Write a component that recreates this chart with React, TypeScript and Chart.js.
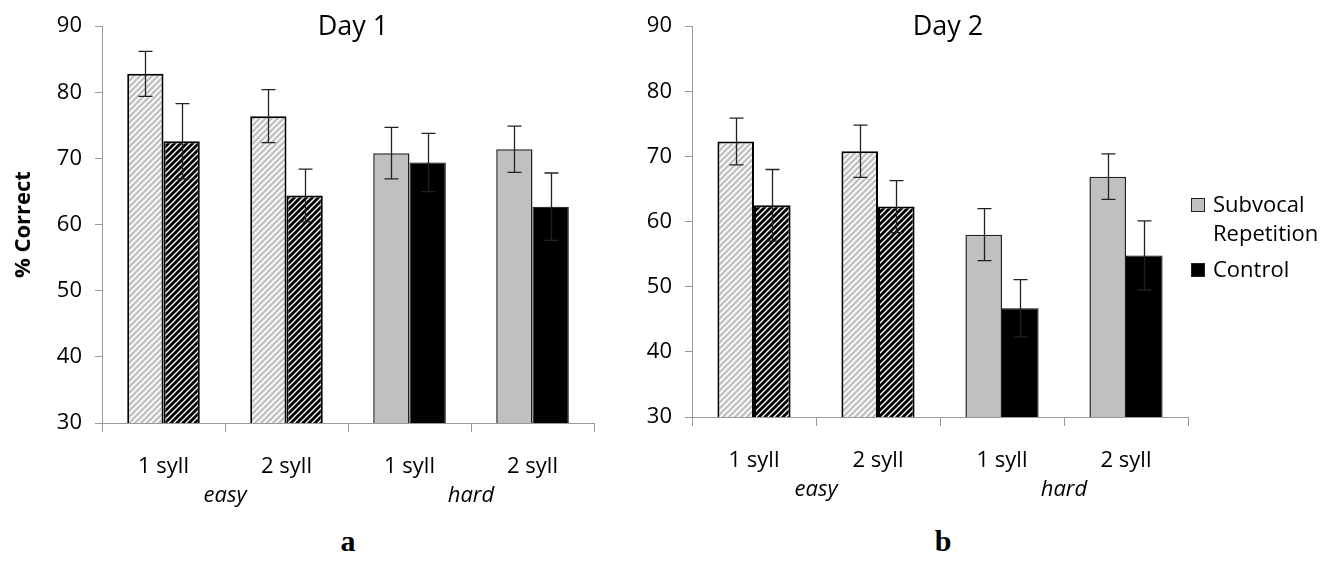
import React, { useEffect, useRef } from 'react';
import { Chart, registerables } from 'chart.js';

Chart.register(...registerables);

// ---------- data ----------
const categories = ['1 syll', '2 syll', '1 syll', '2 syll'];
const difficultyGroups = ['easy', 'hard'];
const seriesLabels = ['Subvocal Repetition', 'Control'];
const legendLines = [['Subvocal', 'Repetition'], ['Control']];

const yMin = 30;
const yMax = 90;
const yStep = 10;

const day1Subvocal = [82.8, 76.4, 70.8, 71.4];
const day1SubvocalErr = [3.4, 4.0, 3.9, 3.5];
const day1Control = [72.6, 64.4, 69.4, 62.7];
const day1ControlErr = [5.7, 4.0, 4.4, 5.1];

const day2Subvocal = [72.3, 70.8, 58.0, 66.9];
const day2SubvocalErr = [3.6, 4.0, 4.0, 3.5];
const day2Control = [62.5, 62.3, 46.7, 54.8];
const day2ControlErr = [5.5, 4.0, 4.4, 5.3];

const panelTitles = ['Day 1', 'Day 2'];
const panelLetters = ['a', 'b'];
const yAxisTitle = '% Correct';

// ---------- styles ----------
const FONT = "'Open Sans', sans-serif";
const AXIS = '#9a9a9a';
const TXT = '#000';
const GRAY = '#c0c0c0';

function makeHatch(fg: string, lw: number, size = 6) {
  const c = document.createElement('canvas');
  c.width = size;
  c.height = size;
  const g = c.getContext('2d')!;
  g.fillStyle = '#fff';
  g.fillRect(0, 0, size, size);
  g.strokeStyle = fg;
  g.lineWidth = lw;
  g.beginPath();
  for (const o of [-size, 0, size]) {
    g.moveTo(o - 1, size + 1);
    g.lineTo(o + size + 1, -1);
  }
  g.stroke();
  return g.createPattern(c, 'repeat')!;
}

const errorBarsPlugin = {
  id: 'errorBars',
  afterDatasetsDraw(chart: any, _a: any, opts: any) {
    const ys = chart.scales.y;
    const ctx = chart.ctx;
    ctx.save();
    ctx.strokeStyle = opts.color;
    ctx.lineWidth = opts.width;
    chart.data.datasets.forEach((ds: any, di: number) => {
      const errs = opts.errors && opts.errors[di];
      if (!errs) return;
      chart.getDatasetMeta(di).data.forEach((bar: any, i: number) => {
        const v = ds.data[i];
        const e = errs[i];
        const x = Math.round(bar.x) + 0.5;
        const yt = ys.getPixelForValue(v + e);
        const yb = ys.getPixelForValue(v - e);
        ctx.beginPath();
        ctx.moveTo(x, yt);
        ctx.lineTo(x, yb);
        ctx.moveTo(x - opts.cap, yt);
        ctx.lineTo(x + opts.cap, yt);
        ctx.moveTo(x - opts.cap, yb);
        ctx.lineTo(x + opts.cap, yb);
        ctx.stroke();
      });
    });
    ctx.restore();
  },
};

const panelTitlePlugin = {
  id: 'panelTitle',
  afterDraw(chart: any, _a: any, opts: any) {
    if (!opts.text) return;
    const { ctx, chartArea } = chart;
    ctx.save();
    ctx.font = `${opts.size}px ${FONT}`;
    ctx.fillStyle = TXT;
    ctx.textAlign = 'center';
    ctx.textBaseline = 'alphabetic';
    ctx.fillText(opts.text, (chartArea.left + chartArea.right) / 2 + opts.shift, opts.baseline);
    ctx.restore();
  },
};

const sideLegendPlugin = {
  id: 'sideLegend',
  afterDraw(chart: any, _a: any, opts: any) {
    if (!opts.display) return;
    const { ctx, chartArea } = chart;
    const x = chartArea.right + opts.gap;
    const box = opts.box;
    ctx.save();
    ctx.font = `${opts.size}px ${FONT}`;
    ctx.textAlign = 'left';
    ctx.textBaseline = 'middle';
    opts.items.forEach((it: any, k: number) => {
      const yc = opts.rowY[k];
      const top = Math.round(yc - 1 - box / 2);
      ctx.fillStyle = it.fill;
      ctx.fillRect(x, top, box, box);
      ctx.strokeStyle = '#222';
      ctx.lineWidth = 1;
      ctx.strokeRect(x + 0.5, top + 0.5, box - 1, box - 1);
      ctx.fillStyle = TXT;
      it.lines.forEach((ln: string, j: number) => {
        ctx.fillText(ln, x + box + opts.textGap, yc + j * opts.lineH);
      });
    });
    ctx.restore();
  },
};

type PanelCfg = {
  title: string;
  subvocal: number[];
  subvocalErr: number[];
  control: number[];
  controlErr: number[];
  left: number;
  width: number;
  height: number;
  padding: { top: number; left: number; right: number; bottom: number };
  yWidth: number;
  yTitle?: string;
  legend: boolean;
  titleShift: number;
};

function PanelChart({ cfg }: { cfg: PanelCfg }) {
  const ref = useRef<HTMLCanvasElement>(null);
  useEffect(() => {
    const canvas = ref.current!;
    const grayHatch = makeHatch('#c2c2c2', 2.6);
    const blackHatch = makeHatch('#000', 2.9);
    const chart = new Chart(canvas, {
      type: 'bar',
      data: {
        labels: categories,
        datasets: [
          {
            label: seriesLabels[0],
            data: cfg.subvocal,
            xAxisID: 'x',
            yAxisID: 'y',
            backgroundColor: [grayHatch, grayHatch, GRAY, GRAY] as any,
            borderColor: ['#000', '#000', '#222', '#222'],
            borderWidth: [2, 2, 1.5, 1.5],
            borderSkipped: false,
            barPercentage: 1,
            categoryPercentage: 0.59,
          },
          {
            label: seriesLabels[1],
            data: cfg.control,
            xAxisID: 'x',
            yAxisID: 'y',
            backgroundColor: [blackHatch, blackHatch, '#000', '#000'] as any,
            borderColor: '#000',
            borderWidth: [2, 2, 1, 1],
            borderSkipped: false,
            barPercentage: 1,
            categoryPercentage: 0.59,
          },
        ],
      },
      options: {
        animation: false,
        responsive: false,
        maintainAspectRatio: false,
        devicePixelRatio: 1,
        layout: { padding: cfg.padding },
        plugins: {
          legend: { display: false },
          tooltip: { enabled: false },
          title: { display: false },
          errorBars: {
            errors: [cfg.subvocalErr, cfg.controlErr],
            color: '#222',
            width: 1.3,
            cap: 7,
          },
          panelTitle: { text: cfg.title, size: 27, baseline: 35, shift: cfg.titleShift },
          sideLegend: {
            display: cfg.legend,
            gap: 3,
            box: 14,
            size: 22,
            textGap: 8,
            lineH: 29,
            rowY: [206, 271],
            items: [
              { fill: GRAY, lines: legendLines[0] },
              { fill: '#000', lines: legendLines[1] },
            ],
          },
        } as any,
        scales: {
          x: {
            type: 'category',
            position: 'bottom',
            weight: 0,
            offset: true,
            grid: {
              display: true,
              drawOnChartArea: false,
              drawTicks: true,
              tickLength: 9,
              color: AXIS,
              offset: true,
            },
            border: { display: true, color: AXIS, width: 1 },
            ticks: {
              font: { family: FONT, size: 22 },
              color: TXT,
              padding: 22,
              maxRotation: 0,
              autoSkip: false,
            },
            afterFit: (s: any) => {
              s.height = 57;
            },
          },
          x2: {
            type: 'category',
            position: 'bottom',
            weight: 1,
            labels: difficultyGroups,
            offset: true,
            grid: { display: false, drawTicks: false },
            border: { display: false },
            ticks: {
              font: { family: FONT, size: 22, style: 'italic' },
              color: TXT,
              padding: 3,
              maxRotation: 0,
              autoSkip: false,
            },
            afterFit: (s: any) => {
              s.height = 30;
            },
          },
          y: {
            type: 'linear',
            position: 'left',
            min: yMin,
            max: yMax,
            ticks: {
              stepSize: yStep,
              font: { family: FONT, size: 22 },
              color: TXT,
              padding: 13,
            },
            grid: {
              display: true,
              drawOnChartArea: false,
              drawTicks: true,
              tickLength: 7,
              color: AXIS,
            },
            border: { display: true, color: AXIS, width: 1 },
            title: {
              display: !!cfg.yTitle,
              text: cfg.yTitle || '',
              font: { family: FONT, size: 22, weight: 'bold' },
              color: TXT,
              padding: { top: 11, bottom: 0 },
            },
            afterFit: (s: any) => {
              s.width = cfg.yWidth;
            },
          },
        } as any,
      },
      plugins: [errorBarsPlugin, panelTitlePlugin, sideLegendPlugin],
    });
    return () => chart.destroy();
  }, []);
  return (
    <canvas
      ref={ref}
      width={cfg.width}
      height={cfg.height}
      style={{ position: 'absolute', left: cfg.left, top: 0, width: cfg.width, height: cfg.height }}
    />
  );
}

const panels: PanelCfg[] = [
  {
    title: panelTitles[0],
    subvocal: day1Subvocal,
    subvocalErr: day1SubvocalErr,
    control: day1Control,
    controlErr: day1ControlErr,
    left: 0,
    width: 620,
    height: 520,
    padding: { top: 25, left: 0, right: 26, bottom: 10 },
    yWidth: 102,
    yTitle: yAxisTitle,
    legend: false,
    titleShift: 5,
  },
  {
    title: panelTitles[1],
    subvocal: day2Subvocal,
    subvocalErr: day2SubvocalErr,
    control: day2Control,
    controlErr: day2ControlErr,
    left: 600,
    width: 734,
    height: 520,
    padding: { top: 17, left: 0, right: 146, bottom: 16 },
    yWidth: 92,
    legend: true,
    titleShift: 8,
  },
];

const letterPos = [348, 943];

export default function App() {
  return (
    <div style={{ position: 'absolute', left: 0, top: 0, width: 1334, height: 580, background: '#fff', overflow: 'hidden' }}>
      {panels.map((p, i) => (
        <PanelChart key={i} cfg={p} />
      ))}
      {panelLetters.map((l, i) => (
        <div
          key={l}
          style={{
            position: 'absolute',
            left: letterPos[i],
            top: 541,
            transform: 'translate(-50%, -50%)',
            fontFamily: "'Liberation Serif', serif",
            fontWeight: 'bold',
            fontSize: 30,
            lineHeight: 1,
            color: '#000',
          }}
        >
          {l}
        </div>
      ))}
    </div>
  );
}
